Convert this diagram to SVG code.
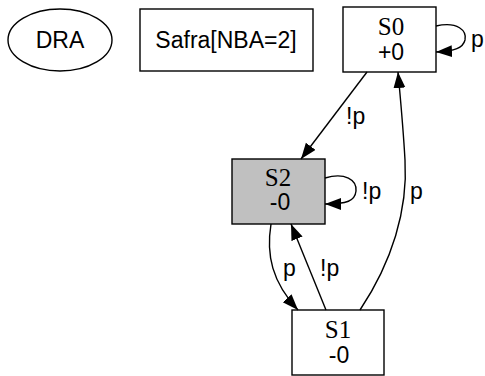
<svg xmlns="http://www.w3.org/2000/svg" width="485" height="376" viewBox="0 0 485 376">
  <style>
    .shape { fill: #ffffff; stroke: #000000; stroke-width: 1.4; }
    .accept { fill: #c0c0c0; }
    .sans { font-family: "Liberation Sans", Arial, sans-serif; font-size: 23px; fill: #000; }
    .serif { font-family: "Liberation Serif", "Times New Roman", serif; font-size: 25px; fill: #000; }
    .mid { text-anchor: middle; }
    .edge { fill: none; stroke: #000000; stroke-width: 1.4; marker-end: url(#arrow); }
  </style>
  <defs>
    <marker id="arrow" markerUnits="userSpaceOnUse" markerWidth="17" markerHeight="13" refX="16" refY="6" orient="auto">
      <path d="M0,0 L16,6 L0,12 z" fill="#000000"/>
    </marker>
  </defs>
  <rect width="485" height="376" fill="#ffffff"/>

  <g id="dra">
    <ellipse class="shape" cx="60" cy="40" rx="52" ry="31"/>
    <text class="sans mid" x="60" y="48">DRA</text>
  </g>

  <g id="safra">
    <rect class="shape" x="140" y="9" width="173" height="62"/>
    <text class="sans mid" x="226" y="48">Safra[NBA=2]</text>
  </g>

  <g id="S0">
    <rect class="shape" x="343" y="7" width="93" height="65"/>
    <text class="serif mid" x="391" y="35">S0</text>
    <text class="sans mid" x="391" y="60">+0</text>
  </g>

  <g id="S2">
    <rect class="shape accept" x="232" y="159" width="93" height="65"/>
    <text class="serif mid" x="278" y="186">S2</text>
    <text class="sans mid" x="280" y="210">-0</text>
  </g>

  <g id="S1">
    <rect class="shape" x="292" y="310" width="92" height="65"/>
    <text class="serif mid" x="338" y="338">S1</text>
    <text class="sans mid" x="339" y="363">-0</text>
  </g>

  <g id="connectors">
    <!-- S0 -> S0 : p -->
    <path class="edge" d="M436,26 C458,21 467,31 465,40 C463,48 455,51 436,52"/>
    <text class="sans" x="471" y="47">p</text>

    <!-- S0 -> S2 : !p -->
    <path class="edge" d="M367,72 L301,159"/>
    <text class="sans" x="346" y="124">!p</text>

    <!-- S2 -> S2 : !p -->
    <path class="edge" d="M325,178 C345,172 357,180 356,191 C355,201 347,204 325,204"/>
    <text class="sans" x="362" y="199">!p</text>

    <!-- S1 -> S0 : p -->
    <path class="edge" d="M360,310 C392,262 408,210 405,160 C403,125 401,105 398,72"/>
    <text class="sans" x="410" y="199">p</text>

    <!-- S2 -> S1 : p -->
    <path class="edge" d="M271,224 C266,255 272,282 298,310"/>
    <text class="sans" x="283" y="276">p</text>

    <!-- S1 -> S2 : !p -->
    <path class="edge" d="M326,310 L291,224"/>
    <text class="sans" x="320" y="276">!p</text>
  </g>
</svg>
